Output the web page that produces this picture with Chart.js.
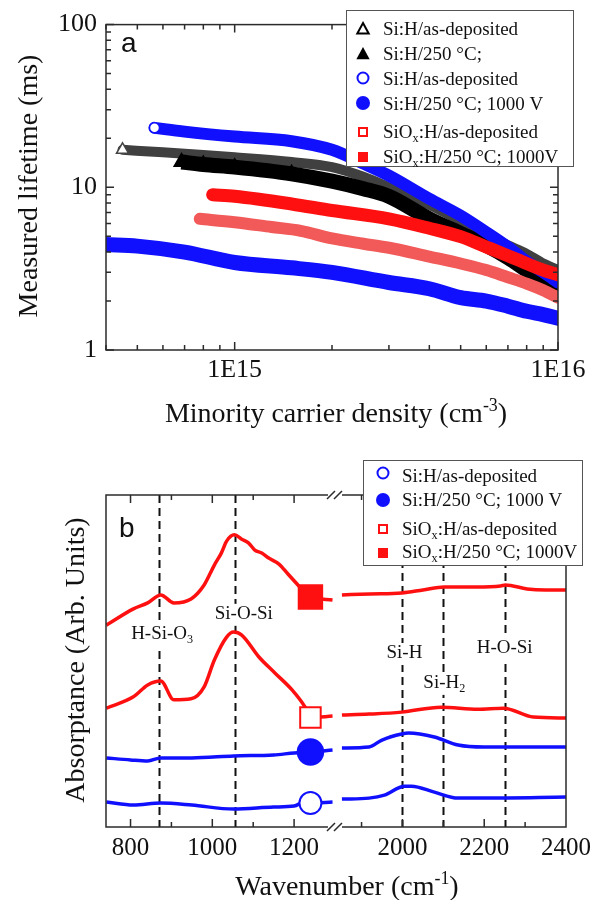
<!DOCTYPE html>
<html><head><meta charset="utf-8">
<script src="https://cdn.jsdelivr.net/npm/chart.js@4.4.1/dist/chart.umd.min.js"></script>
<style>
html,body{margin:0;padding:0;background:#fff;}
#wrap{position:relative;width:601px;height:900px;overflow:hidden;}
canvas{position:absolute;left:0;}
#ca{top:0;}
#cb{top:430px;}
</style></head><body>
<div id="wrap"><canvas id="ca" width="601" height="430"></canvas><canvas id="cb" width="601" height="470"></canvas></div>
<script>
// ================= Panel a data (minority carrier density, lifetime in ms) =================
const triOpenX  = [4.5e14, 6e14, 8e14, 1e15, 1.5e15, 2e15, 2.5e15, 3e15, 4e15, 5e15, 6e15, 7e15, 8e15, 9e15, 1e16];
const triOpenY  = [17.0, 16.4, 15.8, 15.3, 14.3, 13.3, 11.6, 10.0, 7.8, 6.2, 5.1, 4.4, 3.9, 3.4, 3.1];
const triFillX  = [6.85e14, 8e14, 1e15, 1.5e15, 2e15, 2.5e15, 3e15, 4e15, 5e15, 6e15, 7e15, 8e15, 9e15, 1e16];
const triFillY  = [14.3, 13.8, 13.3, 12.1, 10.9, 9.8, 8.8, 6.4, 5.2, 4.4, 3.7, 3.1, 2.65, 2.3];
const circOpenX = [5.65e14, 7e14, 1e15, 1.5e15, 2e15, 2.5e15, 3e15, 4e15, 5e15, 6e15, 7e15, 8e15, 9e15, 1e16];
const circOpenY = [23.2, 22.0, 20.5, 19.2, 17.0, 14.0, 11.8, 8.5, 6.7, 5.3, 4.3, 3.5, 3.0, 2.6];
const circFillX = [4e14, 5e14, 7e14, 1e15, 1.5e15, 2e15, 3e15, 4e15, 5e15, 6e15, 7e15, 8e15, 9e15, 1e16];
const circFillY = [4.45, 4.35, 4.0, 3.45, 3.2, 3.0, 2.6, 2.38, 2.1, 2.0, 1.86, 1.73, 1.65, 1.57];
const sqOpenX   = [7.8e14, 1e15, 1.3e15, 1.6e15, 2e15, 2.5e15, 3e15, 4e15, 5e15, 6e15, 7e15, 8e15, 9e15, 1e16];
const sqOpenY   = [6.4, 6.1, 5.7, 5.4, 4.85, 4.5, 4.25, 3.75, 3.4, 3.1, 2.8, 2.56, 2.33, 2.1];
const sqFillX   = [8.55e14, 1e15, 1.5e15, 2e15, 3e15, 4e15, 5e15, 6e15, 7e15, 8e15, 9e15, 1e16];
const sqFillY   = [9.0, 8.8, 7.9, 7.2, 6.4, 5.6, 4.97, 4.3, 3.8, 3.4, 3.1, 2.9];
const aXRange = [4e14, 1e16];
const aYRange = [1, 100];

// ================= Panel b data (wavenumber cm-1, absorptance arb. units) =================
const wnRedFillL  = [741, 807, 842, 874, 906, 948, 980, 1005, 1022, 1035, 1054, 1072, 1089, 1104, 1121, 1138, 1163, 1185, 1205, 1225, 1240, 1294];
const abRedFillL  = [60.8, 65.7, 67.5, 69.9, 67.5, 68.7, 72.9, 78.9, 82.5, 86.1, 88.0, 86.7, 85.5, 83.4, 82.5, 81.0, 79.2, 76.2, 73.5, 70.8, 69.3, 68.4];
const wnRedFillR  = [1852, 1920, 1998, 2050, 2102, 2180, 2240, 2252, 2305, 2350, 2400];
const abRedFillR  = [69.9, 70.2, 70.5, 71.4, 72.3, 72.3, 72.6, 72.9, 71.7, 71.4, 71.4];
const wnRedOpenL  = [741, 807, 842, 874, 906, 948, 980, 1005, 1035, 1052, 1072, 1114, 1153, 1195, 1227, 1240, 1294];
const abRedOpenL  = [35.8, 39.2, 42.8, 44.0, 38.3, 38.6, 42.2, 50.3, 57.2, 58.7, 57.8, 51.2, 46.4, 41.3, 36.1, 33.0, 33.4];
const wnRedOpenR  = [1852, 1918, 1998, 2095, 2184, 2247, 2320, 2400];
const abRedOpenR  = [33.7, 34.0, 34.6, 36.1, 35.5, 35.8, 33.1, 32.8];
const wnBlueFillL = [741, 800, 842, 874, 950, 1052, 1150, 1200, 1240, 1294];
const abBlueFillL = [20.8, 20.2, 19.9, 20.8, 20.8, 21.4, 21.7, 22.3, 22.6, 23.2];
const wnBlueFillR = [1852, 1918, 1950, 1998, 2015, 2078, 2136, 2199, 2400];
const abBlueFillR = [23.8, 24.1, 26.2, 28.0, 28.3, 27.1, 24.7, 24.1, 24.1];
const wnBlueOpenL = [741, 807, 874, 950, 1052, 1150, 1200, 1225, 1240, 1294];
const abBlueOpenL = [7.5, 6.6, 7.2, 6.6, 5.4, 6.0, 6.3, 7.5, 7.2, 7.5];
const wnBlueOpenR = [1852, 1918, 1956, 2005, 2022, 2078, 2136, 2200, 2400];
const abBlueOpenR = [8.4, 8.7, 9.6, 12.3, 12.3, 10.5, 8.7, 8.7, 9.0];
const markerWn = 1240;
const bSegL = [740, 1300];
const bSegR = [1835, 2400];
const bTickLabels = [800, 1000, 1200, 2000, 2200, 2400];
const bMinorTicks = [900, 1100, 1900, 2100, 2300];
const peakWn = [870, 1055, 2000, 2100, 2250];
const peakLabels = [
  {wn: 870,  parts: [['H-Si-O', 0], ['3', -1]]},
  {wn: 1055, parts: [['Si-O-Si', 0]]},
  {wn: 2000, parts: [['Si-H', 0]]},
  {wn: 2100, parts: [['Si-H', 0], ['2', -1]]},
  {wn: 2250, parts: [['H-O-Si', 0]]}
];

// ================= helpers =================
const SERIF = '"Liberation Serif","Times New Roman",serif';
const SANS = '"Liberation Sans",Arial,sans-serif';
const AXIS = '#2b2b2b';
const RED = '#ff1010', BLUE = '#1010ff';
const pts = (xs, ys) => xs.map((x, i) => ({x: x, y: ys[i]}));
const isDec = v => Math.abs(Math.log10(v) - Math.round(Math.log10(v))) < 1e-6;
function logTicks(min, max) {
  const out = [];
  for (let e = Math.floor(Math.log10(min)); e <= Math.ceil(Math.log10(max)); e++)
    for (let m = 1; m < 10; m++) { const v = m * Math.pow(10, e); if (v >= min * 0.999 && v <= max * 1.001) out.push({value: v}); }
  return out;
}
function richWidth(ctx, parts, size) {
  let w = 0;
  for (const [t, m] of parts) { ctx.font = (m ? size * 0.64 : size) + 'px ' + SERIF; w += ctx.measureText(t).width; }
  return w;
}
function richDraw(ctx, parts, x, y, size, align) {
  const w = richWidth(ctx, parts, size);
  let cx = align === 'center' ? x - w / 2 : (align === 'right' ? x - w : x);
  ctx.textAlign = 'left'; ctx.textBaseline = 'alphabetic';
  for (const [t, m] of parts) {
    ctx.font = (m ? size * 0.64 : size) + 'px ' + SERIF;
    const dy = m === 1 ? -size * 0.38 : (m === -1 ? size * 0.22 : 0);
    ctx.fillText(t, cx, y + dy);
    cx += ctx.measureText(t).width;
  }
  return w;
}
function drawSym(ctx, type, x, y, s, color, lw) {
  ctx.save(); ctx.lineWidth = lw || 2; ctx.strokeStyle = color; ctx.fillStyle = color;
  ctx.beginPath();
  if (type.startsWith('tri')) { ctx.moveTo(x, y - s); ctx.lineTo(x + s * 0.95, y + s * 0.75); ctx.lineTo(x - s * 0.95, y + s * 0.75); ctx.closePath(); }
  else if (type.startsWith('circ')) ctx.arc(x, y, s, 0, Math.PI * 2);
  else ctx.rect(x - s, y - s, 2 * s, 2 * s);
  if (type.endsWith('Fill')) ctx.fill(); else ctx.stroke();
  ctx.restore();
}

// ================= Panel a =================
const legendA = [
  {sym: 'triOpen',  color: '#000', s: 6,   parts: [['Si:H/as-deposited', 0]]},
  {sym: 'triFill',  color: '#000', s: 7,   parts: [['Si:H/250 °C;', 0]]},
  {sym: 'circOpen', color: BLUE,   s: 5.5, parts: [['Si:H/as-deposited', 0]]},
  {sym: 'circFill', color: BLUE,   s: 7,   parts: [['Si:H/250 °C; 1000 V', 0]]},
  {sym: 'sqOpen',   color: RED,    s: 4,   parts: [['SiO', 0], ['x', -1], [':H/as-deposited', 0]]},
  {sym: 'sqFill',   color: RED,    s: 5,   parts: [['SiO', 0], ['x', -1], [':H/250 °C; 1000V', 0]]}
];

const panelA = {
  id: 'panelA',
  afterDatasetsDraw(chart) {
    const {ctx, chartArea: a, scales: {x, y}} = chart;
    ctx.save();
    ctx.strokeStyle = AXIS; ctx.lineWidth = 1.5;
    ctx.beginPath();
    for (const t of x.ticks) {
      const p = x.getPixelForValue(t.value), L = isDec(t.value) ? 8 : 5;
      ctx.moveTo(p, a.bottom); ctx.lineTo(p, a.bottom - L);
      ctx.moveTo(p, a.top); ctx.lineTo(p, a.top + L);
    }
    for (const t of y.ticks) {
      const p = y.getPixelForValue(t.value), L = isDec(t.value) ? 8 : 5;
      ctx.moveTo(a.left, p); ctx.lineTo(a.left + L, p);
      ctx.moveTo(a.right, p); ctx.lineTo(a.right - L, p);
    }
    ctx.stroke();
    ctx.strokeRect(a.left, a.top, a.width, a.height);
    ctx.restore();
  },
  afterDraw(chart) {
    const ctx = chart.ctx;
    ctx.save();
    ctx.fillStyle = '#111';
    richDraw(ctx, [['Minority carrier density (cm', 0], ['-3', 1], [')', 0]], 336, 422, 28, 'center');
    ctx.save(); ctx.translate(37, 186); ctx.rotate(-Math.PI / 2);
    richDraw(ctx, [['Measured lifetime (ms)', 0]], 0, 0, 28, 'center');
    ctx.restore();
    ctx.font = '28px ' + SANS; ctx.textAlign = 'left'; ctx.textBaseline = 'alphabetic';
    ctx.fillText('a', 121, 52);
    ctx.fillStyle = '#fff'; ctx.fillRect(346, 10, 227, 156);
    ctx.strokeStyle = '#555'; ctx.lineWidth = 1; ctx.strokeRect(346.5, 10.5, 227, 156);
    const symY = [29, 54, 78, 103, 132, 157], baseY = [35, 60, 85, 110, 138, 163];
    legendA.forEach((e, i) => {
      drawSym(ctx, e.sym, 363, symY[i], e.s, e.color, 2);
      ctx.fillStyle = '#111';
      richDraw(ctx, e.parts, 383, baseY[i], 19, 'left');
    });
    ctx.restore();
  }
};

const aDatasets = [
  {label: 'Si:H/as-deposited', data: pts(triOpenX, triOpenY), borderColor: '#404040', borderWidth: 10,
   pointStyle: 'triangle', pointRadius: c => c.dataIndex === 0 ? 7 : 0, pointBorderColor: '#444', pointBackgroundColor: '#fff', pointBorderWidth: 1.5},
  {label: 'Si:H/250 °C;', data: pts(triFillX, triFillY), borderColor: '#000', borderWidth: 15, borderCapStyle: 'butt',
   pointStyle: 'triangle', pointRadius: c => (c.raw && c.raw.x < 2e15) ? 10 : 0, pointBorderColor: '#000', pointBackgroundColor: '#000', pointBorderWidth: 0},
  {label: 'Si:H/as-deposited', data: pts(circOpenX, circOpenY), borderColor: BLUE, borderWidth: 12,
   pointStyle: 'circle', pointRadius: c => c.dataIndex === 0 ? 5 : 0, pointBorderColor: BLUE, pointBackgroundColor: '#fff', pointBorderWidth: 1.5},
  {label: 'Si:H/250 °C; 1000 V', data: pts(circFillX, circFillY), borderColor: BLUE, borderWidth: 15, pointRadius: 0},
  {label: 'SiOx:H/as-deposited', data: pts(sqOpenX, sqOpenY), borderColor: '#f25a5a', borderWidth: 12, pointRadius: 0},
  {label: 'SiOx:H/250 °C; 1000V', data: pts(sqFillX, sqFillY), borderColor: RED, borderWidth: 13, pointRadius: 0}
].map((d, i) => Object.assign({borderCapStyle: 'round'}, d, {showLine: true, fill: false, cubicInterpolationMode: 'monotone',
  borderJoinStyle: 'round', clip: 0, order: 6 - i}));

new Chart(document.getElementById('ca'), {
  type: 'scatter',
  data: {datasets: aDatasets},
  options: {
    responsive: false, animation: false, events: [],
    layout: {padding: {left: 0, right: 43, top: 22, bottom: 0}},
    plugins: {legend: {display: false}, tooltip: {enabled: false}},
    scales: {
      x: {type: 'logarithmic', min: aXRange[0], max: aXRange[1],
        afterBuildTicks: s => { s.ticks = logTicks(aXRange[0], aXRange[1]); },
        afterFit: s => { s.height = 80; },
        grid: {display: false, drawTicks: false}, border: {display: false},
        ticks: {autoSkip: false, maxRotation: 0, padding: 5, color: '#111', font: {family: SERIF, size: 26},
          callback: v => isDec(v) ? '1E' + Math.round(Math.log10(v)) : ''}},
      y: {type: 'logarithmic', min: aYRange[0], max: aYRange[1],
        afterBuildTicks: s => { s.ticks = logTicks(aYRange[0], aYRange[1]); },
        afterFit: s => { s.width = 106; },
        grid: {display: false, drawTicks: false}, border: {display: false},
        ticks: {autoSkip: false, padding: 9, color: '#111', font: {family: SERIF, size: 26},
          callback: v => isDec(v) ? String(Math.round(v)) : ''}}
    }
  },
  plugins: [panelA]
});

// ================= Panel b: broken linear scale =================
class BrokenScale extends Chart.LinearScale {
  getPixelForValue(v) {
    if (v === null || v === undefined || isNaN(v)) return NaN;
    const L1 = bSegL[1] - bSegL[0], L2 = bSegR[1] - bSegR[0], T = L1 + L2;
    let d;
    if (v <= bSegL[1]) d = (v - bSegL[0]) / T;
    else if (v >= bSegR[0]) d = (L1 + v - bSegR[0]) / T;
    else d = L1 / T;
    return this.getPixelForDecimal(d);
  }
  getValueForPixel(p) {
    const L1 = bSegL[1] - bSegL[0], L2 = bSegR[1] - bSegR[0], T = L1 + L2;
    const t = this.getDecimalForPixel(p) * T;
    return t <= L1 ? bSegL[0] + t : bSegR[0] + (t - L1);
  }
}
BrokenScale.id = 'broken';
BrokenScale.defaults = Chart.LinearScale.defaults;
Chart.register(BrokenScale);

const legendB = [
  {sym: 'circOpen', color: BLUE, s: 5.5, parts: [['Si:H/as-deposited', 0]]},
  {sym: 'circFill', color: BLUE, s: 7,   parts: [['Si:H/250 °C; 1000 V', 0]]},
  {sym: 'sqOpen',   color: RED,  s: 4,   parts: [['SiO', 0], ['x', -1], [':H/as-deposited', 0]]},
  {sym: 'sqFill',   color: RED,  s: 5,   parts: [['SiO', 0], ['x', -1], [':H/250 °C; 1000V', 0]]}
];

const panelB = {
  id: 'panelB',
  beforeDatasetsDraw(chart) {
    const {ctx, chartArea: a, scales: {x, y}} = chart;
    ctx.save();
    ctx.strokeStyle = '#111'; ctx.lineWidth = 2; ctx.setLineDash([8, 5]);
    ctx.beginPath();
    for (const w of peakWn) { const p = Math.round(x.getPixelForValue(w)) + 0.5; ctx.moveTo(p, a.top); ctx.lineTo(p, a.bottom); }
    ctx.stroke();
    ctx.setLineDash([]);
    const lab = [
      {dx: 3, v: 56.6}, {dx: 9, v: 62.7}, {dx: 2, v: 50.9}, {dx: 1, v: 41.9}, {dx: 0, v: 52.4}
    ];
    peakLabels.forEach((L, i) => {
      const cx = x.getPixelForValue(L.wn) + lab[i].dx, by = y.getPixelForValue(lab[i].v);
      const w = richWidth(ctx, L.parts, 19);
      ctx.fillStyle = '#fff'; ctx.fillRect(cx - w / 2 - 2, by - 15, w + 4, 22);
      ctx.fillStyle = '#111'; richDraw(ctx, L.parts, cx, by, 19, 'center');
    });
    ctx.restore();
  },
  afterDatasetsDraw(chart) {
    const {ctx, chartArea: a, scales: {x}} = chart;
    const bp = x.getPixelForValue(bSegL[1]);
    ctx.save();
    ctx.strokeStyle = AXIS; ctx.lineWidth = 1.5;
    ctx.beginPath();
    ctx.moveTo(bp - 7, a.top); ctx.lineTo(a.left, a.top); ctx.lineTo(a.left, a.bottom); ctx.lineTo(bp - 7, a.bottom);
    ctx.moveTo(bp + 7, a.top); ctx.lineTo(a.right, a.top); ctx.lineTo(a.right, a.bottom); ctx.lineTo(bp + 7, a.bottom);
    for (const yy of [a.top, a.bottom]) for (const dx of [-4, 3]) { ctx.moveTo(bp + dx - 4, yy + 4); ctx.lineTo(bp + dx + 4, yy - 4); }
    for (const v of bTickLabels.concat(bMinorTicks)) {
      const p = x.getPixelForValue(v), L = bTickLabels.includes(v) ? 8 : 5;
      ctx.moveTo(p, a.bottom); ctx.lineTo(p, a.bottom - L);
      ctx.moveTo(p, a.top); ctx.lineTo(p, a.top + L);
    }
    ctx.stroke();
    ctx.restore();
  },
  afterDraw(chart) {
    const ctx = chart.ctx;
    ctx.save();
    ctx.fillStyle = '#111';
    richDraw(ctx, [['Wavenumber (cm', 0], ['-1', 1], [')', 0]], 347, 465, 28, 'center');
    ctx.save(); ctx.translate(84, 230); ctx.rotate(-Math.PI / 2);
    richDraw(ctx, [['Absorptance (Arb. Units)', 0]], 0, 0, 28, 'center');
    ctx.restore();
    ctx.font = '28px ' + SANS; ctx.textAlign = 'left'; ctx.textBaseline = 'alphabetic';
    ctx.fillText('b', 119, 107);
    ctx.fillStyle = '#fff'; ctx.fillRect(363, 30, 219, 105);
    ctx.strokeStyle = '#555'; ctx.lineWidth = 1; ctx.strokeRect(363.5, 30.5, 219, 105);
    const symY = [43, 70, 99, 123], baseY = [52, 76, 105, 128];
    legendB.forEach((e, i) => {
      drawSym(ctx, e.sym, 383, symY[i], e.s, e.color, 2);
      ctx.fillStyle = '#111';
      richDraw(ctx, e.parts, 402, baseY[i], 19, 'left');
    });
    ctx.restore();
  }
};

const mk = (r) => (c => (c.raw && c.raw.x === markerWn) ? r : 0);
const bDatasets = [
  {data: pts(wnRedFillL, abRedFillL), borderColor: RED, pointStyle: 'rect', pointRadius: mk(15.5), pointBackgroundColor: RED, pointBorderColor: RED},
  {data: pts(wnRedFillR, abRedFillR), borderColor: RED, pointRadius: 0},
  {data: pts(wnRedOpenL, abRedOpenL), borderColor: RED, pointStyle: 'rect', pointRadius: mk(14.5), pointBackgroundColor: '#fff', pointBorderColor: RED, pointBorderWidth: 2},
  {data: pts(wnRedOpenR, abRedOpenR), borderColor: RED, pointRadius: 0},
  {data: pts(wnBlueFillL, abBlueFillL), borderColor: BLUE, pointStyle: 'circle', pointRadius: mk(12), pointBackgroundColor: BLUE, pointBorderColor: BLUE},
  {data: pts(wnBlueFillR, abBlueFillR), borderColor: BLUE, pointRadius: 0},
  {data: pts(wnBlueOpenL, abBlueOpenL), borderColor: BLUE, pointStyle: 'circle', pointRadius: mk(11), pointBackgroundColor: '#fff', pointBorderColor: BLUE, pointBorderWidth: 2},
  {data: pts(wnBlueOpenR, abBlueOpenR), borderColor: BLUE, pointRadius: 0}
].map(d => Object.assign({showLine: true, fill: false, borderWidth: 3.5, cubicInterpolationMode: 'monotone', clip: 0}, d));

new Chart(document.getElementById('cb'), {
  type: 'scatter',
  data: {datasets: bDatasets},
  options: {
    responsive: false, animation: false, events: [],
    layout: {padding: {left: 106, right: 35, top: 65, bottom: 0}},
    plugins: {legend: {display: false}, tooltip: {enabled: false}},
    scales: {
      x: {type: 'broken', min: bSegL[0], max: bSegR[1],
        afterBuildTicks: s => { s.ticks = bTickLabels.map(v => ({value: v})); },
        afterFit: s => { s.height = 73; },
        grid: {display: false, drawTicks: false}, border: {display: false},
        ticks: {autoSkip: false, maxRotation: 0, padding: 6, color: '#111', font: {family: SERIF, size: 25},
          callback: v => String(v)}},
      y: {type: 'linear', min: 0, max: 100, display: false}
    }
  },
  plugins: [panelB]
});
</script>
</body></html>
